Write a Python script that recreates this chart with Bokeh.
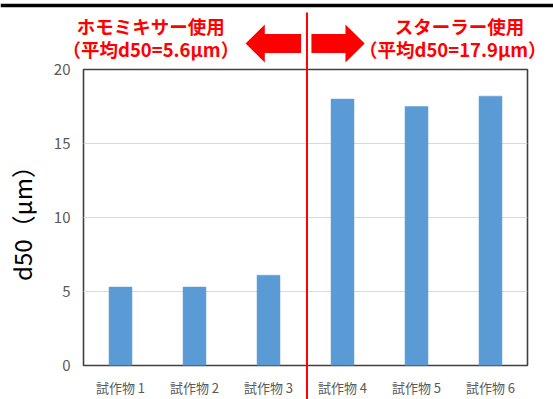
from bokeh.plotting import figure
from bokeh.models import FactorRange, Range1d, ColumnDataSource, FixedTicker
from bokeh.core.properties import value
from bokeh.embed import file_html
from bokeh.resources import INLINE

# ---- data ----
categories = ["試作物 1", "試作物 2", "試作物 3", "試作物 4", "試作物 5", "試作物 6"]
d50 = [5.3, 5.3, 6.1, 18.0, 17.5, 18.2]
group_names = ["ホモミキサー使用", "スターラー使用"]
group_sizes = [3, 3]
y_ticks = [0, 5, 10, 15, 20]

JP = "Noto Sans CJK JP"
W, H = 553, 399
FL, FR, FT, FB = 83, 26, 69, 34      # frame borders (px)
Y_MAX = 20

p = figure(width=W, height=H, output_backend="svg", toolbar_location=None,
           x_range=FactorRange(factors=categories), y_range=Range1d(0, Y_MAX),
           min_border_left=FL, min_border_right=FR, min_border_top=FT,
           min_border_bottom=FB, background_fill_color="white",
           border_fill_color="white")

src = ColumnDataSource(dict(x=categories, top=d50))
p.vbar(x="x", top="top", width=0.31, source=src, fill_color="#5b9bd5",
       line_color="#5b9bd5", line_width=0.5)

p.yaxis.ticker = FixedTicker(ticks=y_ticks)
p.yaxis.axis_label = "d50（μm）"
p.yaxis.axis_label_text_font = JP
p.yaxis.axis_label_text_font_size = "24px"
p.yaxis.axis_label_text_font_style = "normal"
p.yaxis.axis_label_text_color = "#000000"
p.yaxis.axis_label_standoff = 12
p.yaxis.major_label_text_font = JP
p.yaxis.major_label_text_font_size = "15px"
p.yaxis.major_label_text_color = "#595959"
p.yaxis.major_label_standoff = 13
p.xaxis.major_label_text_font = JP
p.xaxis.major_label_text_font_size = "13px"
p.xaxis.major_label_text_color = "#595959"
p.xaxis.major_label_standoff = 12
for ax in (p.xaxis, p.yaxis):
    ax.axis_line_color = None
    ax.major_tick_line_color = None
    ax.minor_tick_line_color = None
    ax.major_tick_out = 0
    ax.major_tick_in = 0
    ax.minor_tick_out = 0

p.xgrid.grid_line_color = None
p.ygrid.grid_line_color = "#d9d9d9"
p.ygrid.grid_line_width = 1
p.outline_line_color = "#404040"
p.outline_line_width = 1.6

# ---- transparent overlay in the same data coordinates, covering the whole page ----
xu = (W - FL - FR) / len(categories)      # px per category
yu = (H - FT - FB) / Y_MAX                # px per unit
ov = figure(width=W, height=H, output_backend="svg", toolbar_location=None,
            x_range=Range1d(-FL / xu, (W - FL) / xu),
            y_range=Range1d(-FB / yu, (H - FB) / yu),
            x_axis_type=None, y_axis_type=None,
            min_border=0, min_border_left=0, min_border_right=0,
            min_border_top=0, min_border_bottom=0,
            background_fill_alpha=0, border_fill_alpha=0,
            outline_line_color=None,
            styles={"position": "absolute", "left": "0px", "top": "0px"})

split = group_sizes[0]
y_top = (H - FB) / yu
# top black rule
ov.segment(x0=[-FL / xu], y0=[y_top - 5 / yu], x1=[(W - FL) / xu], y1=[y_top - 5 / yu],
           line_color="black", line_width=3.5)
# red divider
ov.segment(x0=[split + 0.02], y0=[-FB / yu], x1=[split + 0.02], y1=[y_top - 12 / yu],
           line_color="#ff0000", line_width=2)

yc, hh, sh = y_top - 43 / yu, 19 / yu, 9.5 / yu
lx_tip, lx_base, lx_end = split - 0.81, split - 0.55, split - 0.06
rx_tip, rx_base, rx_start = split + 0.80, split + 0.54, split + 0.08
ov.patches(xs=[[lx_tip, lx_base, lx_base, lx_end, lx_end, lx_base, lx_base],
               [rx_tip, rx_base, rx_base, rx_start, rx_start, rx_base, rx_base]],
           ys=[[yc, yc + hh, yc + sh, yc + sh, yc - sh, yc - sh, yc - hh]] * 2,
           fill_color="#ff0000", line_color=None)

means = [sum(d50[:split]) / split, sum(d50[split:]) / group_sizes[1]]
text_x1 = [0.91, 5.08]
text_x2 = [0.91, 4.99]
lines1 = group_names
lines2 = [f"（平均d50={m:.1f}μm）" for m in means]
ov.text(x=text_x1 + text_x2, y=[y_top - 25 / yu] * 2 + [y_top - 48 / yu] * 2,
        text=lines1 + lines2, text_align="center", text_baseline="middle",
        text_font=value(JP), text_font_size="18.5px", text_font_style="bold",
        text_color="#ff0000")

open("out.html", "w").write(file_html([p, ov], INLINE))
